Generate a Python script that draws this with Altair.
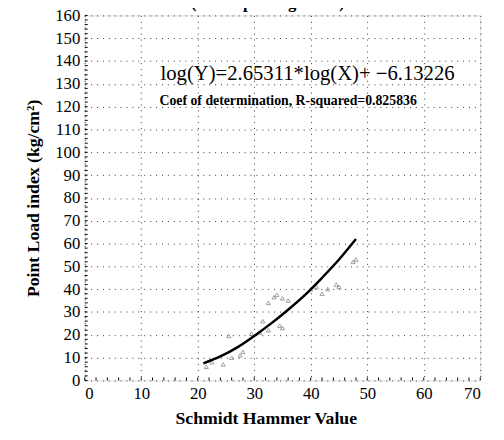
import altair as alt
import pandas as pd

x_obs = [21.5, 22.5, 24.5, 26.0, 27.5, 28.0, 25.5, 29.5, 31.0, 31.5, 32.5, 34.5, 35.0,
         32.5, 33.5, 34.0, 35.0, 36.0, 40.0, 41.0, 42.0, 43.0, 44.5, 45.0, 47.5, 48.0]
y_obs = [6.0, 8.0, 7.0, 10.0, 11.0, 12.5, 19.5, 20.5, 21.0, 26.0, 22.0, 24.0, 23.0,
         34.0, 36.5, 37.5, 36.0, 35.0, 40.0, 41.0, 38.0, 40.0, 42.0, 41.0, 52.0, 53.0]

# fitted curve
fit_x = [21, 24, 27, 30, 33, 36, 39, 42, 45, 48]
fit_y = [7.5, 10.5, 14.5, 19.5, 25.0, 31.0, 37.5, 45.0, 53.0, 62.0]

x_ticks = list(range(0, 71, 10))
y_ticks = list(range(0, 161, 10))
x_minor = list(range(0, 71, 2))
y_minor = list(range(0, 161, 2))

title_text = "(decomposed granite)"
equation = "log(Y)=2.65311*log(X)+ \u22126.13226"
r2_text = "Coef of determination, R-squared=0.825836"
x_title = "Schmidt Hammer Value"
y_title = "Point Load index (kg/cm\u00b2)"

W, H = 402, 371
FONT = "Liberation Serif"

xs = alt.Scale(domain=[0, 70], nice=False, zero=False)
ys = alt.Scale(domain=[0, 160], nice=False, zero=False)

x_axis = alt.Axis(values=x_ticks, grid=True, ticks=False, domain=False,
                  labelOverlap=False,
                  labelFont=FONT, labelFontSize=17, labelColor="black",
                  labelPadding=5, titleFont=FONT, titleFontSize=18,
                  titleFontWeight="bold", titleColor="black",
                  titlePadding=9, titleX=184,
                  gridDash=[1, 5], gridColor="#333333", gridWidth=1)
y_axis = alt.Axis(values=y_ticks, grid=True, ticks=False, domain=False,
                  labelOverlap=False,
                  labelFont=FONT, labelFontSize=17, labelColor="black",
                  labelPadding=5, titleFont=FONT, titleFontSize=18,
                  titleFontWeight="bold", titleColor="black",
                  titlePadding=12,
                  gridDash=[1, 5], gridColor="#333333", gridWidth=1)


def X(field):
    return alt.X(field, scale=xs, axis=x_axis, title=x_title)


def Y(field):
    return alt.Y(field, scale=ys, axis=y_axis, title=y_title)


obs = pd.DataFrame({"x": x_obs, "y": y_obs})
fit = pd.DataFrame({"x": fit_x, "y": fit_y})

points = alt.Chart(obs).mark_point(
    shape="triangle-up", size=18, filled=False, color="#777777", strokeWidth=1
).encode(x=X("x:Q"), y=Y("y:Q"))

curve = alt.Chart(fit).mark_line(color="black", strokeWidth=2.5, interpolate="monotone").encode(
    x=X("x:Q"), y=Y("y:Q")
)

xminor = alt.Chart(pd.DataFrame({"x": x_minor})).mark_rule(color="black", strokeWidth=1).encode(
    x=X("x:Q"), y=alt.value(H), y2=alt.value(H - 3)
)
yminor = alt.Chart(pd.DataFrame({"y": y_minor})).mark_rule(color="black", strokeWidth=1).encode(
    y=Y("y:Q"), x=alt.value(0), x2=alt.value(3)
)

eq = alt.Chart(pd.DataFrame({"t": [equation]})).mark_text(
    font=FONT, fontSize=21, align="left", baseline="alphabetic", color="black"
).encode(text="t:N", x=alt.value(77), y=alt.value(66))

r2 = alt.Chart(pd.DataFrame({"t": [r2_text]})).mark_text(
    font=FONT, fontSize=14, fontWeight="bold", align="left", baseline="alphabetic", color="black"
).encode(text="t:N", x=alt.value(76), y=alt.value(91))

ttl = alt.Chart(pd.DataFrame({"t": [title_text]})).mark_text(
    font=FONT, fontSize=17, fontWeight="bold", align="center", baseline="alphabetic", color="black"
).encode(text="t:N", x=alt.value(186), y=alt.value(-8))

chart = alt.layer(points, curve, xminor, yminor, eq, r2, ttl).properties(
    width=W, height=H,
    autosize=alt.AutoSizeParams(type="none"),
    padding={"left": 78, "top": 4, "right": 16, "bottom": 57},
).configure_view(stroke="black", strokeWidth=1.5).configure(background="white")

chart.save("out.html", embed_options={"renderer": "svg", "actions": False})
